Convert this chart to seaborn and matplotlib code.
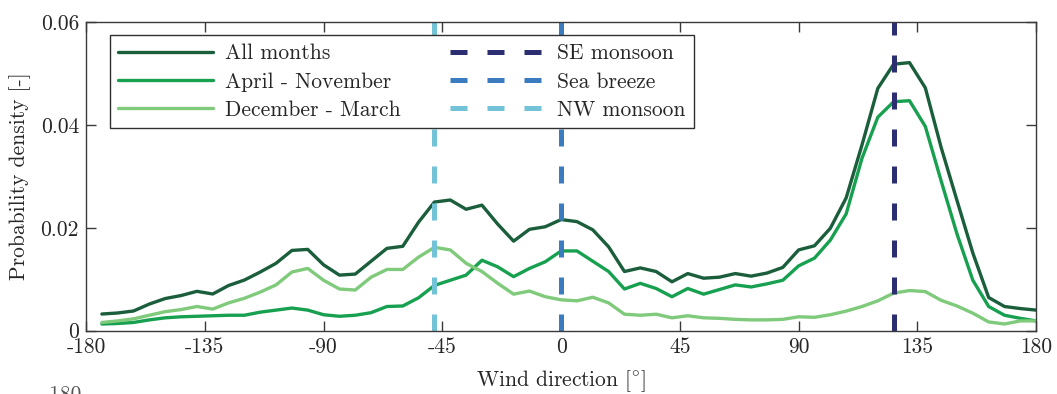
import numpy as np
import pandas as pd
import matplotlib
matplotlib.use("Agg")
import matplotlib.pyplot as plt
import seaborn as sns

# Wind direction bin centres (6 degree bins)
directions = list(range(-174, 181, 6))

all_months = [
    0.00324, 0.00344, 0.00383, 0.00518, 0.00625, 0.00683, 0.00765, 0.00713, 0.00878, 0.00984,
    0.0114, 0.0131, 0.0156, 0.0158, 0.0128, 0.0108, 0.0110, 0.0135, 0.0160, 0.0164,
    0.0211, 0.0250, 0.0254, 0.0236, 0.0244, 0.0207, 0.0174, 0.0197, 0.0202, 0.0216,
    0.0212, 0.0196, 0.0163, 0.0115, 0.0122, 0.0115, 0.0095, 0.0111, 0.0102, 0.0104,
    0.0111, 0.0106, 0.0112, 0.0123, 0.0157, 0.0165, 0.0199, 0.0258, 0.0361, 0.0471,
    0.0518, 0.0521, 0.0472, 0.0356, 0.0253, 0.0151, 0.00645, 0.0047, 0.0043, 0.0040,
]
april_november = [
    0.0013, 0.0014, 0.0016, 0.0021, 0.0025, 0.0027, 0.0028, 0.0029, 0.0030, 0.0030,
    0.0036, 0.0040, 0.0044, 0.0040, 0.0031, 0.0028, 0.0030, 0.0035, 0.0047, 0.0048,
    0.0064, 0.0088, 0.0098, 0.0108, 0.0137, 0.0124, 0.0105, 0.0121, 0.0134, 0.0155,
    0.0155, 0.0135, 0.0115, 0.0081, 0.0092, 0.0082, 0.0066, 0.0082, 0.0071, 0.0080,
    0.0089, 0.0085, 0.0091, 0.0098, 0.0126, 0.0141, 0.0176, 0.0227, 0.0335, 0.0415,
    0.0445, 0.0447, 0.0397, 0.0291, 0.0188, 0.0098, 0.0047, 0.0030, 0.0024, 0.0019,
]
december_march = [
    0.0016, 0.0019, 0.0023, 0.0030, 0.0037, 0.0041, 0.0047, 0.0042, 0.0054, 0.0063,
    0.0075, 0.0089, 0.0114, 0.0121, 0.0098, 0.0081, 0.0079, 0.0104, 0.0119, 0.0119,
    0.0143, 0.0162, 0.0157, 0.0131, 0.0115, 0.0092, 0.0071, 0.0077, 0.0066, 0.0060,
    0.0058, 0.0065, 0.0054, 0.0032, 0.0030, 0.0032, 0.0025, 0.0029, 0.0025, 0.0024,
    0.0022, 0.0021, 0.0021, 0.0022, 0.0027, 0.0026, 0.0031, 0.0038, 0.0047, 0.0058,
    0.0073, 0.0078, 0.0076, 0.0059, 0.0048, 0.0034, 0.0017, 0.0013, 0.0019, 0.0019,
]

series_names = ["All months", "April - November", "December - March"]
series_colors = ["#1b5e3c", "#17a04f", "#7fca7b"]

# Reference wind directions
regime_names = ["SE monsoon", "Sea breeze", "NW monsoon"]
regime_directions = [126, 0, -48]
regime_colors = ["#2b2f72", "#3b7cc0", "#72c3d8"]

x_ticks = [-180, -135, -90, -45, 0, 45, 90, 135, 180]
x_tick_labels = ["-180", "-135", "-90", "-45", "0", "45", "90", "135", "180"]
y_ticks = [0, 0.02, 0.04, 0.06]
y_tick_labels = ["0", "0.02", "0.04", "0.06"]

df = pd.DataFrame({
    "direction": directions * 3,
    "density": all_months + april_november + december_march,
    "period": sum([[n] * len(directions) for n in series_names], []),
})

sns.set_style("ticks")
plt.rcParams["font.family"] = ["cmr10"]
plt.rcParams["mathtext.fontset"] = "cm"
plt.rcParams["axes.unicode_minus"] = False

FS = 15.5
LW = 2.4
DASH = (0, (3.4, 4.0))

fig = plt.figure(figsize=(10.57, 3.94), dpi=100)
ax = fig.add_axes([0.0814, 0.1607, 0.8989, 0.7835])

sns.lineplot(data=df, x="direction", y="density", hue="period",
             hue_order=series_names, palette=series_colors,
             linewidth=LW, ax=ax, legend=False)

for name, d, c in zip(regime_names, regime_directions, regime_colors):
    ax.axvline(d, color=c, linewidth=3.6, linestyle=DASH, label=name)

ax.set_xlim(-180, 180)
ax.set_ylim(0, 0.06)
ax.set_xticks(x_ticks)
ax.set_xticklabels(x_tick_labels)
ax.set_yticks(y_ticks)
ax.set_yticklabels(y_tick_labels)

for s in ax.spines.values():
    s.set_visible(True)
    s.set_color("#3a3a3a")
    s.set_linewidth(1.0)
ax.tick_params(direction="in", length=7.5, width=1.0, color="#3a3a3a",
               top=True, right=True, labelsize=FS, pad=5)

ax.set_xlabel(r"Wind direction [$^{\circ}$]", fontsize=FS, labelpad=8)
ax.set_ylabel("Probability density [-]", fontsize=FS, labelpad=7)

handles = [plt.Line2D([], [], color=c, linewidth=LW) for c in series_colors]
handles += [plt.Line2D([], [], color=c, linewidth=3.6, linestyle=DASH)
            for c in regime_colors]
leg = ax.legend(handles, series_names + regime_names, ncol=2,
                loc="upper left", bbox_to_anchor=(0.025, 0.957), borderaxespad=0,
                fontsize=FS, handlelength=4.4, handletextpad=0.55,
                columnspacing=2.3, labelspacing=0.4, borderpad=0.4,
                frameon=True, fancybox=False, framealpha=1)
leg.get_frame().set_edgecolor("#303030")
leg.get_frame().set_linewidth(1.0)

fig.text(62 / 1057, 1 - 385 / 394, "-180", fontsize=FS, va="top", ha="center",
         color="#555555")

fig.savefig("out.png", dpi=100)
